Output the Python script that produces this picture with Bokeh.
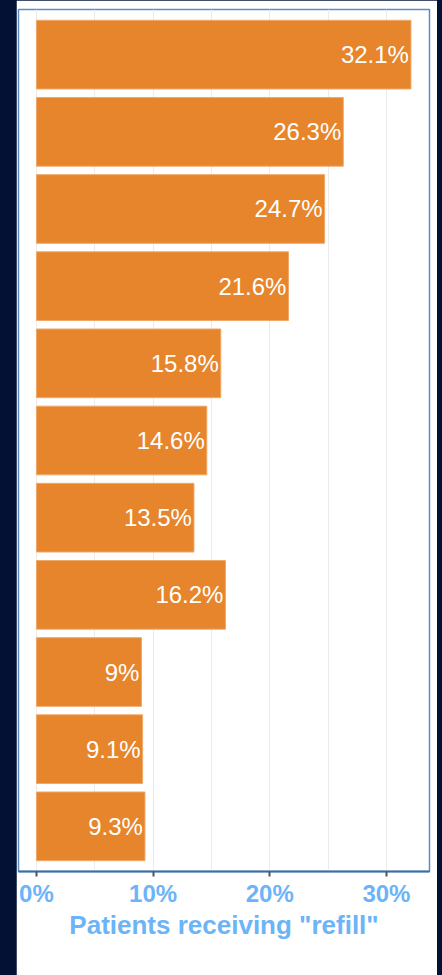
from bokeh.plotting import figure
from bokeh.models import FactorRange, Range1d, ColumnDataSource, FixedTicker, GlobalInlineStyleSheet, CustomJSTickFormatter
from bokeh.core.properties import value
from bokeh.embed import file_html
from bokeh.resources import INLINE

categories = ["Group 1", "Group 2", "Group 3", "Group 4", "Group 5", "Group 6",
              "Group 7", "Group 8", "Group 9", "Group 10", "Group 11"]
values = [32.1, 26.3, 24.7, 21.6, 15.8, 14.6, 13.5, 16.2, 9, 9.1, 9.3]
labels = ["32.1%", "26.3%", "24.7%", "21.6%", "15.8%", "14.6%", "13.5%", "16.2%", "9%", "9.1%", "9.3%"]
x_ticks = [0, 10, 20, 30]
x_minor = [5, 15, 25]
x_title = 'Patients receiving "refill"'

src = ColumnDataSource(dict(cat=categories, val=values, lab=labels))

yr = FactorRange(factors=categories[::-1], range_padding=0.085, range_padding_units="absolute")
p = figure(width=421, height=975, y_range=yr, x_range=Range1d(-1.54, 33.69),
           output_backend="svg", toolbar_location=None,
           min_border_left=2, min_border_right=8, min_border_top=9, min_border_bottom=104)
p.margin = (0, 0, 0, 16)
p.stylesheets = [GlobalInlineStyleSheet(css="html, body { margin: 0; padding: 0; background: #031234; }")]

p.background_fill_color = "white"
p.border_fill_color = "white"
p.outline_line_color = "#5b8cc4"
p.outline_line_width = 1.5

p.hbar(y="cat", right="val", left=0, height=0.89, source=src,
       fill_color="#e6852b", line_color="#f0a868", line_width=1)

p.text(x="val", y="cat", text="lab", source=src, x_offset=-2,
       text_align="right", text_baseline="middle", text_color="white",
       text_font=value("Liberation Sans"), text_font_size="24px")

p.yaxis.visible = False
p.ygrid.grid_line_color = None

ticker = FixedTicker(ticks=x_ticks, minor_ticks=x_minor)
p.xaxis.ticker = ticker
p.xaxis.formatter = CustomJSTickFormatter(code="return tick + '%';")
p.xgrid.ticker = ticker
p.xgrid.grid_line_color = "#ebebeb"
p.xgrid.minor_grid_line_color = "#ebebeb"
p.xgrid.grid_line_width = 1

p.xaxis.axis_line_color = "#3a6ea5"
p.xaxis.axis_line_width = 2
p.xaxis.major_tick_line_color = "#555555"
p.xaxis.major_tick_line_width = 2
p.xaxis.major_tick_out = 5
p.xaxis.major_tick_in = 0
p.xaxis.minor_tick_line_color = None
p.xaxis.major_label_text_font = "Liberation Sans"
p.xaxis.major_label_text_font_style = "bold"
p.xaxis.major_label_text_font_size = "24px"
p.xaxis.major_label_text_color = "#6cb4f7"
p.xaxis.major_label_standoff = 3
p.xaxis.axis_label = x_title
p.xaxis.axis_label_text_font = "Liberation Sans"
p.xaxis.axis_label_text_font_style = "bold"
p.xaxis.axis_label_text_font_size = "26px"
p.xaxis.axis_label_text_color = "#6cb4f7"
p.xaxis.axis_label_standoff = 0

open("out.html", "w").write(file_html(p, INLINE))
